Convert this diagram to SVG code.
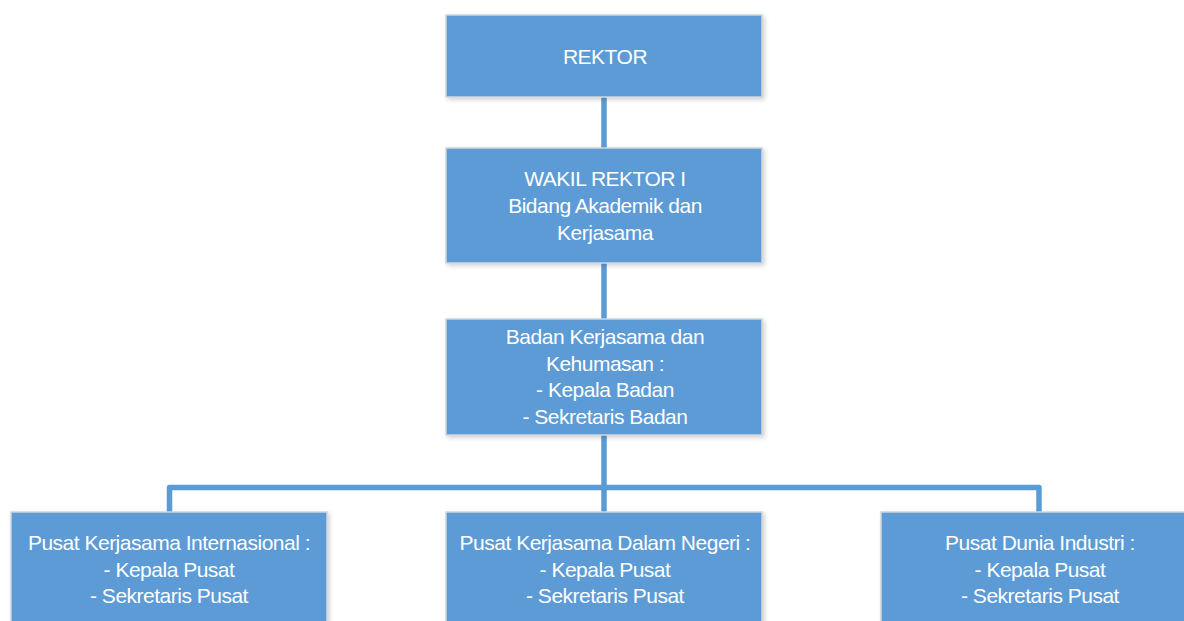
<svg xmlns="http://www.w3.org/2000/svg" width="1184" height="621" viewBox="0 0 1184 621">
<style>
.box{fill:#5B9BD5;stroke:#CFD6DD;stroke-width:1.5;filter:url(#sh)}
.t{font-family:"Liberation Sans",Arial,sans-serif;font-size:21px;fill:#FFFFFF;text-anchor:middle;letter-spacing:-0.5px}
.c{fill:none;stroke:#5B9BD5;stroke-width:5.5;stroke-linejoin:round}
</style>
<defs>
<filter id="sh" x="-5%" y="-5%" width="115%" height="120%">
<feDropShadow dx="2" dy="2" stdDeviation="2" flood-color="#000000" flood-opacity="0.18"/>
</filter>
</defs>
<rect width="1184" height="621" fill="#FFFFFF"/>
<g id="connectors">
<line class="c" x1="604" y1="97" x2="604" y2="148"/>
<line class="c" x1="604" y1="263" x2="604" y2="319"/>
<line class="c" x1="604" y1="435" x2="604" y2="512"/>
<path class="c" d="M169.5 512 V487.5 H1039 V512"/>
</g>
<g id="rektor">
<rect class="box" x="446" y="15" width="316" height="82"/>
<text class="t" x="605" y="64" letter-spacing="-1.5">REKTOR</text>
</g>
<g id="wakil">
<rect class="box" x="446" y="148" width="316" height="115"/>
<text class="t" x="605" y="186" letter-spacing="-1.2">WAKIL REKTOR I</text>
<text class="t" x="605" y="213">Bidang Akademik dan</text>
<text class="t" x="605" y="240">Kerjasama</text>
</g>
<g id="badan">
<rect class="box" x="446" y="319" width="316" height="116"/>
<text class="t" x="605" y="344">Badan Kerjasama dan</text>
<text class="t" x="605" y="371">Kehumasan :</text>
<text class="t" x="605" y="397">- Kepala Badan</text>
<text class="t" x="605" y="424">- Sekretaris Badan</text>
</g>
<g id="pusat-internasional">
<rect class="box" x="11" y="512" width="316" height="130"/>
<text class="t" x="169" y="550">Pusat Kerjasama Internasional :</text>
<text class="t" x="169" y="577">- Kepala Pusat</text>
<text class="t" x="169" y="603">- Sekretaris Pusat</text>
</g>
<g id="pusat-dalam-negeri">
<rect class="box" x="446" y="512" width="316" height="130"/>
<text class="t" x="605" y="550">Pusat Kerjasama Dalam Negeri :</text>
<text class="t" x="605" y="577">- Kepala Pusat</text>
<text class="t" x="605" y="603">- Sekretaris Pusat</text>
</g>
<g id="pusat-dunia-industri">
<rect class="box" x="881" y="512" width="318" height="130"/>
<text class="t" x="1040" y="550">Pusat Dunia Industri :</text>
<text class="t" x="1040" y="577">- Kepala Pusat</text>
<text class="t" x="1040" y="603">- Sekretaris Pusat</text>
</g>
</svg>
